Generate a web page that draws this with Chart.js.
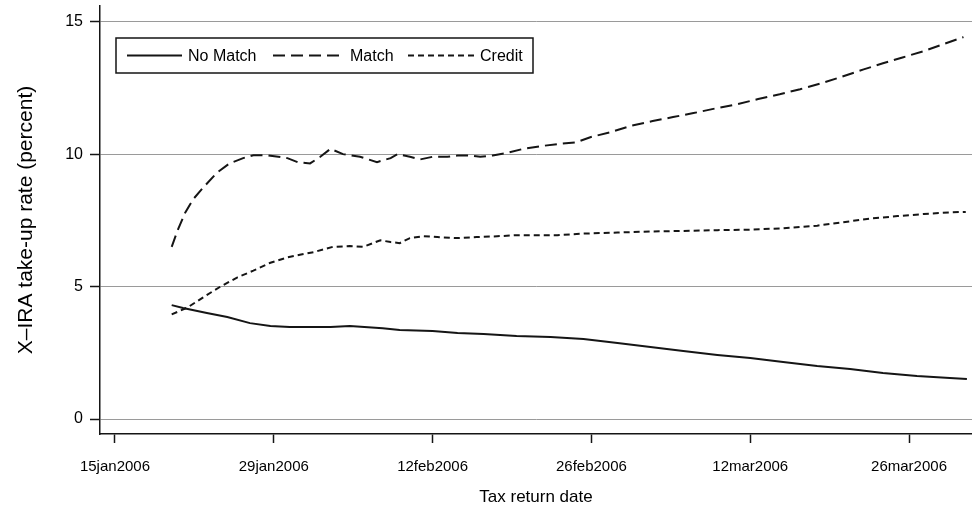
<!DOCTYPE html>
<html>
<head>
<meta charset="utf-8">
<script src="https://cdn.jsdelivr.net/npm/chart.js@4.4.1/dist/chart.umd.min.js"></script>
<style>
  html, body { margin: 0; padding: 0; background: #fff; }
  #wrap { width: 972px; height: 513px; }
</style>
</head>
<body>
<div id="wrap"><canvas id="chart" width="972" height="513"></canvas></div>
<script>
// days counted from 15jan2006
const tickDays = [0, 14, 28, 42, 56, 70];
const tickLabels = ['15jan2006', '29jan2006', '12feb2006', '26feb2006', '12mar2006', '26mar2006'];
const yTicks = [0, 5, 10, 15];

const noMatchDays = [5.0, 6.0, 8.1, 9.9, 11.9, 13.7, 15.4, 19.0, 20.7, 23.6, 25.1, 28.0, 30.2, 32.5, 35.4,
  38.4, 41.3, 44.3, 47.2, 50.1, 53.1, 56.0, 58.9, 61.9, 64.8, 67.7, 70.7, 73.6, 75.1];
const noMatchRate = [4.3, 4.19, 4.0, 3.85, 3.62, 3.51, 3.47, 3.47, 3.51, 3.43, 3.36, 3.32, 3.25, 3.21, 3.13,
  3.1, 3.02, 2.87, 2.72, 2.57, 2.42, 2.3, 2.15, 2.0, 1.89, 1.74, 1.62, 1.55, 1.51];

const matchDays = [5.0, 5.5, 6.2, 6.9, 7.8, 9.0, 10.1, 11.3, 12.2, 13.4, 15.2, 16.1, 17.2, 18.1, 19.0,
  20.1, 21.6, 23.1, 24.3, 24.9, 26.0, 26.9, 28.0, 29.3, 30.2, 31.3, 32.2, 33.3, 34.6, 36.0,
  37.5, 39.0, 40.7, 41.9, 43.7, 45.4, 47.4, 49.2, 51.0, 53.1, 54.9, 56.7, 58.6, 60.4, 62.3,
  64.2, 66.0, 67.7, 69.5, 71.3, 73.0, 74.8];
const matchRate = [6.5, 7.1, 7.8, 8.3, 8.75, 9.3, 9.65, 9.85, 9.96, 9.96, 9.85, 9.7, 9.65, 9.9, 10.2,
  10.0, 9.9, 9.7, 9.85, 10.0, 9.9, 9.8, 9.9, 9.9, 9.95, 9.95, 9.9, 9.95, 10.05, 10.2,
  10.3, 10.38, 10.45, 10.64, 10.83, 11.06, 11.25, 11.4, 11.55, 11.74, 11.89, 12.08, 12.26, 12.45, 12.68,
  12.94, 13.2, 13.43, 13.66, 13.89, 14.15, 14.42];

const creditDays = [5.0, 6.35, 7.8, 9.3, 10.8, 12.2, 13.7, 15.2, 16.3, 17.5, 19.2, 20.7, 21.9, 23.4, 24.3,
  25.1, 26.0, 27.2, 28.4, 30.2, 31.9, 33.7, 35.4, 37.2, 39.0, 41.3, 44.3, 47.2, 50.1, 53.1,
  56.0, 58.9, 61.9, 64.2, 66.6, 69.0, 71.3, 73.6, 75.0];
const creditRate = [3.95, 4.2, 4.6, 5.0, 5.35, 5.6, 5.9, 6.1, 6.2, 6.3, 6.5, 6.53, 6.5, 6.75, 6.68,
  6.64, 6.83, 6.9, 6.87, 6.83, 6.87, 6.9, 6.94, 6.94, 6.94, 7.0, 7.04, 7.08, 7.1, 7.13,
  7.15, 7.2, 7.3, 7.43, 7.57, 7.66, 7.74, 7.8, 7.82];

const FONT = "'Liberation Sans', Arial, Helvetica, sans-serif";
const INK = '#151515';

function pts(days, vals) {
  return days.map((d, i) => ({ x: d, y: vals[i] }));
}

// legend drawn in a box inside the plot, like the original
const legendLayout = [
  { lineFrom: 11, lineTo: 66, textX: 72 },
  { lineFrom: 157, lineTo: 224, textX: 234 },
  { lineFrom: 292, lineTo: 361, textX: 364 }
];
const boxLegend = {
  id: 'boxLegend',
  afterDraw(chart) {
    const { ctx, chartArea } = chart;
    const left = chartArea.left + 16, top = chartArea.top + 32;
    const w = 417, h = 35, cy = top + h / 2;
    ctx.save();
    ctx.fillStyle = '#fff';
    ctx.fillRect(left, top, w, h);
    ctx.strokeStyle = INK;
    ctx.lineWidth = 1.5;
    ctx.strokeRect(left, top, w, h);
    ctx.font = '16px ' + FONT;
    ctx.textBaseline = 'middle';
    chart.data.datasets.forEach((ds, i) => {
      const l = legendLayout[i];
      ctx.beginPath();
      ctx.setLineDash(ds.borderDash || []);
      ctx.lineWidth = 2;
      ctx.strokeStyle = INK;
      ctx.moveTo(left + l.lineFrom, cy);
      ctx.lineTo(left + l.lineTo, cy);
      ctx.stroke();
      ctx.setLineDash([]);
      ctx.fillStyle = '#000';
      ctx.fillText(ds.label, left + l.textX, cy + 1);
    });
    ctx.restore();
  }
};

new Chart(document.getElementById('chart'), {
  type: 'line',
  data: {
    datasets: [
      { label: 'No Match', data: pts(noMatchDays, noMatchRate), borderColor: INK, borderWidth: 2, borderDash: [] },
      { label: 'Match', data: pts(matchDays, matchRate), borderColor: INK, borderWidth: 2, borderDash: [12, 6] },
      { label: 'Credit', data: pts(creditDays, creditRate), borderColor: INK, borderWidth: 2, borderDash: [6, 4] }
    ]
  },
  options: {
    responsive: false,
    animation: false,
    elements: { point: { radius: 0 }, line: { tension: 0, fill: false } },
    layout: { padding: { top: 6, right: 0, left: 0, bottom: 0 } },
    plugins: { legend: { display: false }, tooltip: { enabled: false } },
    scales: {
      x: {
        type: 'linear',
        min: -1.32,
        max: 75.55,
        afterFit: (s) => { s.height = 79; s.paddingLeft = 0; s.paddingRight = 0; },
        afterBuildTicks: (s) => { s.ticks = tickDays.map(v => ({ value: v })); },
        border: { color: INK, width: 1.5 },
        grid: { drawOnChartArea: false, drawTicks: true, tickLength: 9, tickColor: INK, tickWidth: 1.5 },
        ticks: {
          autoSkip: false,
          maxRotation: 0,
          padding: 15,
          color: '#000',
          font: { family: FONT, size: 15 },
          callback: (v) => tickLabels[tickDays.indexOf(v)]
        },
        title: {
          display: true,
          text: 'Tax return date',
          color: '#000',
          font: { family: FONT, size: 17 },
          padding: { top: 0, bottom: 5 }
        }
      },
      y: {
        min: -0.566,
        max: 15.593,
        afterFit: (s) => { s.width = 100; s.paddingTop = 0; s.paddingBottom = 0; },
        afterBuildTicks: (s) => { s.ticks = yTicks.map(v => ({ value: v })); },
        border: { color: INK, width: 1.5 },
        grid: { color: '#9a9a9a', lineWidth: 1, drawTicks: true, tickLength: 10, tickColor: INK, tickWidth: 1.5 },
        ticks: {
          padding: 7,
          color: '#000',
          font: { family: FONT, size: 16 }
        },
        title: {
          display: true,
          text: 'X\u2013IRA take-up rate (percent)',
          color: '#000',
          font: { family: FONT, size: 21 },
          padding: { top: 14, bottom: 0 }
        }
      }
    }
  },
  plugins: [boxLegend]
});
</script>
</body>
</html>
